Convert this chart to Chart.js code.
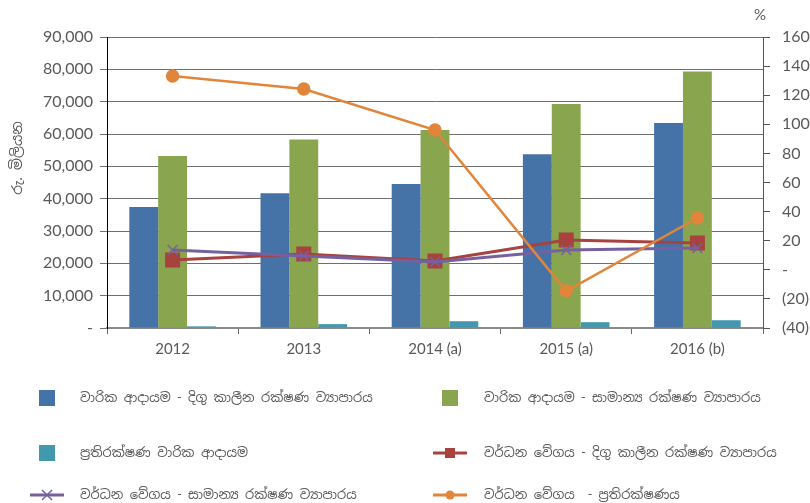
<!DOCTYPE html>
<html>
<head>
<meta charset="utf-8">
<script src="https://cdn.jsdelivr.net/npm/chart.js@4.4.0/dist/chart.umd.min.js"></script>
<style>
    html, body { margin: 0; padding: 0; background: #fff; }
    #wrap { width: 810px; height: 503px; }
</style>
</head>
<body>
<div id="wrap"><canvas id="chart" width="810" height="503"></canvas></div>
<script>
"use strict";

// --- Data ---
const years = ["2012", "2013", "2014 (a)", "2015 (a)", "2016 (b)"];
const longTermIncome = [37400, 41700, 44500, 53700, 63400];
const generalIncome = [53200, 58300, 61200, 69300, 79300];
const reinsuranceIncome = [500, 1200, 2100, 1800, 2400];
const longTermGrowth = [6.7, 10.9, 6.0, 20.5, 18.4];
const generalGrowth = [13.6, 9.5, 5.4, 13.6, 15.0];
const reinsuranceGrowth = [133.2, 124.3, 96.1, -14.6, 35.6];

const leftTitle = "රු. මිලියන";
const rightTitle = "%";
const legendLabels = [
    "වාරික ආදායම - දිගු කාලීන රක්ෂණ ව්‍යාපාරය",
    "වාරික ආදායම - සාමාන්‍ය රක්ෂණ ව්‍යාපාරය",
    "ප්‍රතිරක්ෂණ වාරික ආදායම",
    "වර්ධන වේගය - දිගු කාලීන රක්ෂණ ව්‍යාපාරය",
    "වර්ධන වේගය - සාමාන්‍ය රක්ෂණ ව්‍යාපාරය",
    "වර්ධන වේගය  - ප්‍රතිරක්ෂණය"
];

const FONT = "'Noto Sans Sinhala', 'Lato', 'Noto Sans', sans-serif";
const NUMFONT = "'Lato', 'Noto Sans', sans-serif";
const TEXT = "#595959";

// Extra texts + legend drawn on the canvas
const extrasPlugin = {
    id: "extras",
    afterDraw(chart) {
        const c = chart.ctx;
        c.save();
        c.fillStyle = TEXT;
        c.font = "14px " + FONT;
        c.textBaseline = "middle";

        // left axis title (rotated)
        c.save();
        c.translate(18, 158);
        c.rotate(-Math.PI / 2);
        c.textAlign = "center";
        c.fillText(leftTitle, 0, 0);
        c.restore();

        // right axis unit
        c.textAlign = "left";
        c.font = "15px " + NUMFONT;
        c.fillText(rightTitle, 754, 15);

        // legend
        c.font = "13px " + FONT;
        const colX = [[30, 80], [433, 484]];
        const rowY = [398, 453, 495];
        chart.data.datasets.forEach((ds, i) => {
            const col = colX[i % 2];
            const y = rowY[Math.floor(i / 2)];
            if (ds.type === "line") {
                c.strokeStyle = ds.borderColor;
                c.lineWidth = 3;
                c.beginPath();
                c.moveTo(col[0], y);
                c.lineTo(col[0] + 34, y);
                c.stroke();
                const mx = col[0] + 17;
                if (ds.pointStyle === "rect") {
                    c.fillStyle = ds.borderColor;
                    c.fillRect(mx - 5, y - 5, 10, 10);
                } else if (ds.pointStyle === "circle") {
                    c.fillStyle = ds.borderColor;
                    c.beginPath();
                    c.arc(mx, y, 4.5, 0, Math.PI * 2);
                    c.fill();
                } else {
                    c.lineWidth = 1.5;
                    c.beginPath();
                    c.moveTo(mx - 5, y - 5); c.lineTo(mx + 5, y + 5);
                    c.moveTo(mx + 5, y - 5); c.lineTo(mx - 5, y + 5);
                    c.stroke();
                }
            } else {
                c.fillStyle = ds.backgroundColor;
                c.fillRect(col[0] + 9, y - 8, 16, 16);
            }
            c.fillStyle = TEXT;
            c.textAlign = "left";
            c.fillText(legendLabels[i], col[1], y);
        });
        c.restore();
    }
};

const fmtLeft = v => v === 0 ? "-" : v.toLocaleString("en-US");
const fmtRight = v => v === 0 ? "-" : (v < 0 ? "(" + Math.abs(v) + ")" : String(v));

new Chart(document.getElementById("chart"), {
    data: {
        labels: years,
        datasets: [{
            type: "bar",
            data: longTermIncome,
            backgroundColor: "#4573a7",
            yAxisID: "y",
            order: 5
        }, {
            type: "bar",
            data: generalIncome,
            backgroundColor: "#89a54e",
            yAxisID: "y",
            order: 5
        }, {
            type: "bar",
            data: reinsuranceIncome,
            backgroundColor: "#4198af",
            yAxisID: "y",
            order: 5
        }, {
            type: "line",
            data: longTermGrowth,
            borderColor: "#a8423f",
            backgroundColor: "#a8423f",
            borderWidth: 3,
            pointStyle: "rect",
            pointRadius: 8.5,
            yAxisID: "y1",
            order: 3
        }, {
            type: "line",
            data: generalGrowth,
            borderColor: "#7760a0",
            backgroundColor: "#7760a0",
            borderWidth: 3,
            pointStyle: "crossRot",
            pointRadius: 7,
            pointBorderWidth: 1.5,
            yAxisID: "y1",
            order: 2
        }, {
            type: "line",
            data: reinsuranceGrowth,
            borderColor: "#e0853a",
            backgroundColor: "#e0853a",
            borderWidth: 2.5,
            pointStyle: "circle",
            pointRadius: 5.5,
            yAxisID: "y1",
            order: 1
        }]
    },
    options: {
        responsive: false,
        devicePixelRatio: 1,
        animation: false,
        layout: { padding: { top: 37, left: 0, right: 0, bottom: 0 } },
        datasets: {
            bar: { categoryPercentage: 0.66, barPercentage: 1.0 }
        },
        plugins: {
            legend: { display: false },
            tooltip: { enabled: false }
        },
        scales: {
            x: {
                grid: { offset: true, drawOnChartArea: false, drawTicks: true, tickLength: 6, color: "#666" },
                border: { color: "#8a8a8a", width: 2 },
                ticks: { color: TEXT, font: { family: NUMFONT, size: 15 }, padding: 6 },
                afterFit: s => { s.height = 175; }
            },
            y: {
                position: "left",
                min: 0, max: 90000,
                ticks: { stepSize: 10000, callback: fmtLeft, color: TEXT, font: { family: NUMFONT, size: 16 }, padding: 7 },
                grid: { color: "#6e6e6e", tickLength: 7 },
                border: { color: "#000" },
                afterFit: s => { s.width = 107; }
            },
            y1: {
                position: "right",
                min: -40, max: 160,
                ticks: { stepSize: 20, callback: fmtRight, color: TEXT, font: { family: NUMFONT, size: 16 }, padding: 12 },
                grid: { drawOnChartArea: false, tickLength: 7, color: "#555" },
                border: { color: "#555" },
                afterFit: s => { s.width = 47; }
            }
        }
    },
    plugins: [extrasPlugin]
});
</script>
</body>
</html>
